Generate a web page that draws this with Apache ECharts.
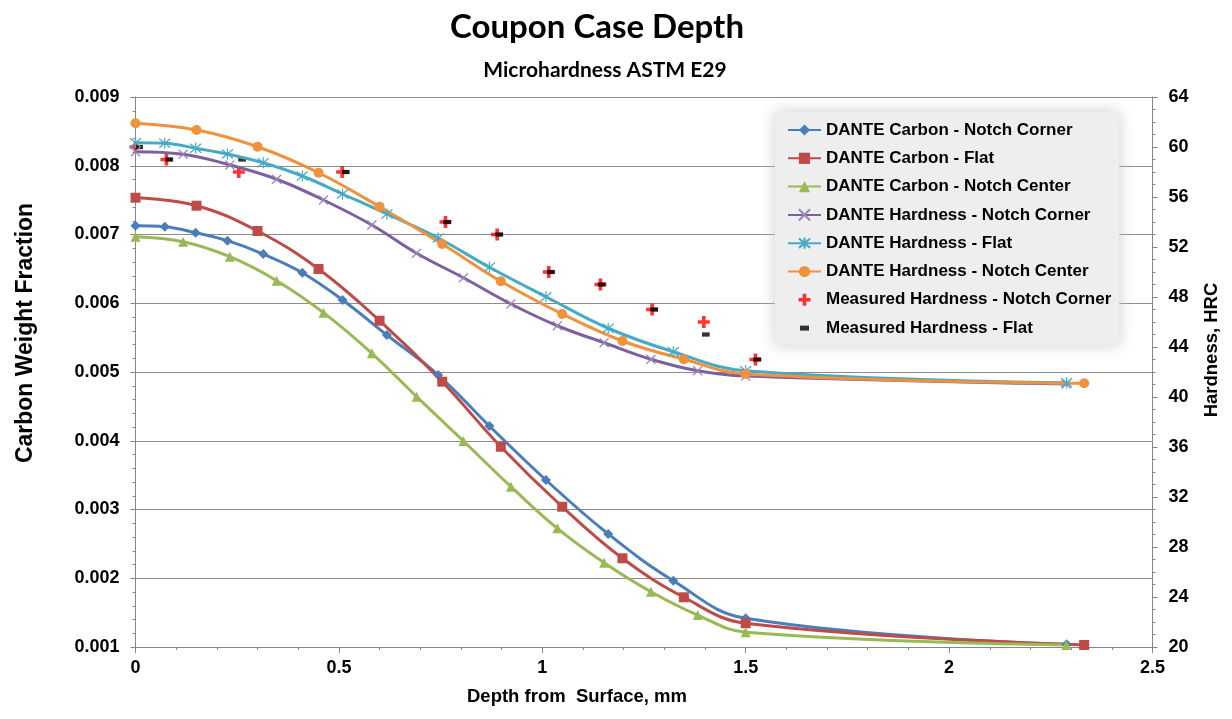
<!DOCTYPE html>
<html>
<head>
<meta charset="utf-8">
<script src="https://cdn.jsdelivr.net/npm/echarts@6/dist/echarts.min.js"></script>
<style>
html,body{margin:0;padding:0;background:#fff;}
#chart{width:1232px;height:719px;}
</style>
</head>
<body>
<div id="chart"></div>
<script>
// ---- Data ----
const seriesNames = [
  'DANTE Carbon - Notch Corner',
  'DANTE Carbon - Flat',
  'DANTE Carbon - Notch Center',
  'DANTE Hardness - Notch Corner',
  'DANTE Hardness - Flat',
  'DANTE Hardness - Notch Center',
  'Measured Hardness - Notch Corner',
  'Measured Hardness - Flat'
];

// depth (mm) grids
const depthA = [0, 0.072, 0.148, 0.226, 0.314, 0.41, 0.509, 0.618, 0.744, 0.87, 1.009, 1.162, 1.322, 1.5, 2.289];
const depthB = [0, 0.15, 0.3, 0.45, 0.6, 0.754, 0.898, 1.049, 1.197, 1.348, 1.5, 2.332];
const depthC = [0, 0.117, 0.232, 0.347, 0.462, 0.581, 0.691, 0.806, 0.923, 1.037, 1.152, 1.267, 1.382, 1.5, 2.288];

// carbon weight fraction
const carbonNotchCorner = [0.007128, 0.007113, 0.007026, 0.00691, 0.006716, 0.006444, 0.006047, 0.005538, 0.004956, 0.004215, 0.003429, 0.002644, 0.001964, 0.001417, 0.00104];
const carbonFlat = [0.007535, 0.007419, 0.007051, 0.006498, 0.005746, 0.004859, 0.003913, 0.00304, 0.00229, 0.001723, 0.001345, 0.001029];
const carbonNotchCenter = [0.006968, 0.006895, 0.006677, 0.006328, 0.005863, 0.005272, 0.004641, 0.003996, 0.003332, 0.002726, 0.002226, 0.001804, 0.001465, 0.001214, 0.001029];

// hardness HRC (simulated)
const hardNotchCorner = [59.62, 59.42, 58.56, 57.42, 55.76, 53.76, 51.5, 49.54, 47.44, 45.7, 44.34, 43.02, 42.1, 41.68, 41.04];
const hardFlat = [60.34, 60.3, 59.9, 59.44, 58.74, 57.68, 56.24, 54.64, 52.72, 50.38, 48.02, 45.5, 43.62, 42.1, 41.14];
const hardNotchCenter = [61.9, 61.36, 60.02, 57.94, 55.22, 52.24, 49.26, 46.64, 44.48, 43.02, 41.84, 41.1];

// measured hardness
const measDepthCorner = [0, 0.076, 0.254, 0.508, 0.762, 0.889, 1.016, 1.143, 1.27, 1.397, 1.524];
const measHardCorner = [60, 59, 58, 58, 54, 53, 50, 49, 47, 46, 43];
const measDepthFlat = [0.009, 0.083, 0.262, 0.517, 0.766, 0.894, 1.021, 1.146, 1.275, 1.402, 1.528];
const measHardFlat = [60, 59, 59, 58, 54, 53, 50, 49, 47, 45, 43];

// axis ticks
const xTicks = {min: 0, max: 2.5, interval: 0.5};
const leftTicks = {min: 0.001, max: 0.009, interval: 0.001};
const rightTicks = {min: 20, max: 64, interval: 4};

// ---- Build ----
const zip = (xs, ys) => xs.map((x, i) => [x, ys[i]]);
const FONT = '"Liberation Sans", Arial, sans-serif';
const AXIS_GRAY = '#868686';

// padded symbol paths (the leading moves set the symbol box)
const plusPath = 'path://M0,0M14,14M5.2,1H8.8V5.2H13V8.8H8.8V13H5.2V8.8H1V5.2H5.2Z';
const dashPath = 'path://M0,0M14,14M2.5,4.5H11.5V9.5H2.5Z';
const xPath = 'path://M0,0L10,10M10,0L0,10';
const starPath = 'path://M0,0L10,10M10,0L0,10M5,-1L5,11';

function lineSeries(name, data, color, symbol, size, yIndex, extra) {
  return Object.assign({
    name: name,
    type: 'line',
    yAxisIndex: yIndex,
    data: data,
    smooth: 0.4,
    symbol: symbol,
    symbolSize: size,
    showAllSymbol: true,
    lineStyle: {color: color, width: 3},
    itemStyle: {color: color, borderColor: color, borderWidth: 0},
    emphasis: {disabled: true},
    animation: false
  }, extra || {});
}

const series = [
  lineSeries(seriesNames[0], zip(depthA, carbonNotchCorner), '#4a7ebb', 'diamond', 10, 0),
  lineSeries(seriesNames[1], zip(depthB, carbonFlat), '#be4b48', 'rect', 10, 0),
  lineSeries(seriesNames[2], zip(depthC, carbonNotchCenter), '#98b954', 'triangle', 10, 0),
  lineSeries(seriesNames[3], zip(depthC, hardNotchCorner), '#7d60a0', xPath, 9, 1,
    {itemStyle: {color: '#7d60a0', borderColor: '#9a86bb', borderWidth: 1.2}}),
  lineSeries(seriesNames[4], zip(depthA, hardFlat), '#46aac5', starPath, 11, 1,
    {itemStyle: {color: '#46aac5', borderColor: '#46aac5', borderWidth: 1.2}}),
  lineSeries(seriesNames[5], zip(depthB, hardNotchCenter), '#f0913c', 'circle', 10, 1),
  {
    name: seriesNames[6], type: 'scatter', yAxisIndex: 1,
    data: zip(measDepthCorner, measHardCorner),
    symbol: plusPath, symbolSize: 14,
    itemStyle: {color: '#ff0000'}, emphasis: {disabled: true}, animation: false
  },
  {
    name: seriesNames[7], type: 'scatter', yAxisIndex: 1,
    data: zip(measDepthFlat, measHardFlat),
    symbol: dashPath, symbolSize: 12,
    itemStyle: {color: '#000000'}, emphasis: {disabled: true}, animation: false
  }
];

const tickLabel = {color: '#000', fontFamily: FONT, fontWeight: 'bold', fontSize: 18};

const option = {
  backgroundColor: '#ffffff',
  animation: false,
  title: [
    {text: 'Coupon Case Depth', left: 592, top: 6, textAlign: 'center',
      textStyle: {fontFamily: 'Lato, "Open Sans", sans-serif', fontWeight: 'bold', fontSize: 33, color: '#000'}},
    {text: 'Microhardness ASTM E29', left: 600, top: 55, textAlign: 'center',
      textStyle: {fontFamily: 'Lato, "Open Sans", sans-serif', fontWeight: 'bold', fontSize: 21, color: '#000'}}
  ],
  legend: {
    orient: 'vertical',
    left: 775, top: 112,
    padding: [9, 8, 8, 12],
    itemWidth: 33, itemHeight: 14, itemGap: 10.3,
    backgroundColor: '#eeeeee',
    shadowColor: 'rgba(200,200,200,0.9)',
    shadowBlur: 14,
    data: seriesNames,
    textStyle: {fontFamily: FONT, fontWeight: 'bold', fontSize: 17, color: '#000', lineHeight: 18},
    selectedMode: false
  },
  grid: {left: 135.5, right: 79.5, top: 97, bottom: 72, containLabel: false},
  xAxis: {
    type: 'value', min: xTicks.min, max: xTicks.max, interval: xTicks.interval,
    name: 'Depth from  Surface, mm', nameLocation: 'middle', nameGap: 40,
    nameTextStyle: {fontFamily: FONT, fontWeight: 'bold', fontSize: 18.5, color: '#000', padding: [0, 134, 0, 0]},
    axisLine: {show: true, onZero: false, lineStyle: {color: AXIS_GRAY}},
    axisTick: {show: true, length: 6, lineStyle: {color: AXIS_GRAY}},
    minorTick: {show: true, splitNumber: 5, length: 3, lineStyle: {color: AXIS_GRAY}},
    axisLabel: Object.assign({margin: 12}, tickLabel),
    splitLine: {show: false}
  },
  yAxis: [
    {
      type: 'value', position: 'left', min: leftTicks.min, max: leftTicks.max, interval: leftTicks.interval,
      name: 'Carbon Weight Fraction', nameLocation: 'middle', nameGap: 98, nameRotate: 90,
      nameTextStyle: {fontFamily: FONT, fontWeight: 'bold', fontSize: 23, color: '#000', padding: [0, 0, 0, 78]},
      axisLine: {show: true, lineStyle: {color: AXIS_GRAY}},
      axisTick: {show: true, length: 5, lineStyle: {color: AXIS_GRAY}},
      minorTick: {show: true, splitNumber: 5, length: 3, lineStyle: {color: AXIS_GRAY}},
      axisLabel: Object.assign({margin: 16, formatter: v => v.toFixed(3)}, tickLabel),
      splitLine: {show: true, lineStyle: {color: '#8c8c8c', width: 1}}
    },
    {
      type: 'value', position: 'right', min: rightTicks.min, max: rightTicks.max, interval: rightTicks.interval,
      name: 'Hardness, HRC', nameLocation: 'middle', nameGap: 50, nameRotate: 90,
      nameTextStyle: {fontFamily: FONT, fontWeight: 'bold', fontSize: 18.5, color: '#000', padding: [0, 0, 0, 44]},
      axisLine: {show: true, lineStyle: {color: AXIS_GRAY}},
      axisTick: {show: true, length: 5, lineStyle: {color: AXIS_GRAY}},
      minorTick: {show: true, splitNumber: 4, length: 3, lineStyle: {color: AXIS_GRAY}},
      axisLabel: Object.assign({margin: 16}, tickLabel),
      splitLine: {show: false}
    }
  ],
  series: series
};

const chart = echarts.init(document.getElementById('chart'), null, {renderer: 'canvas'});
chart.setOption(option);
</script>
</body>
</html>
